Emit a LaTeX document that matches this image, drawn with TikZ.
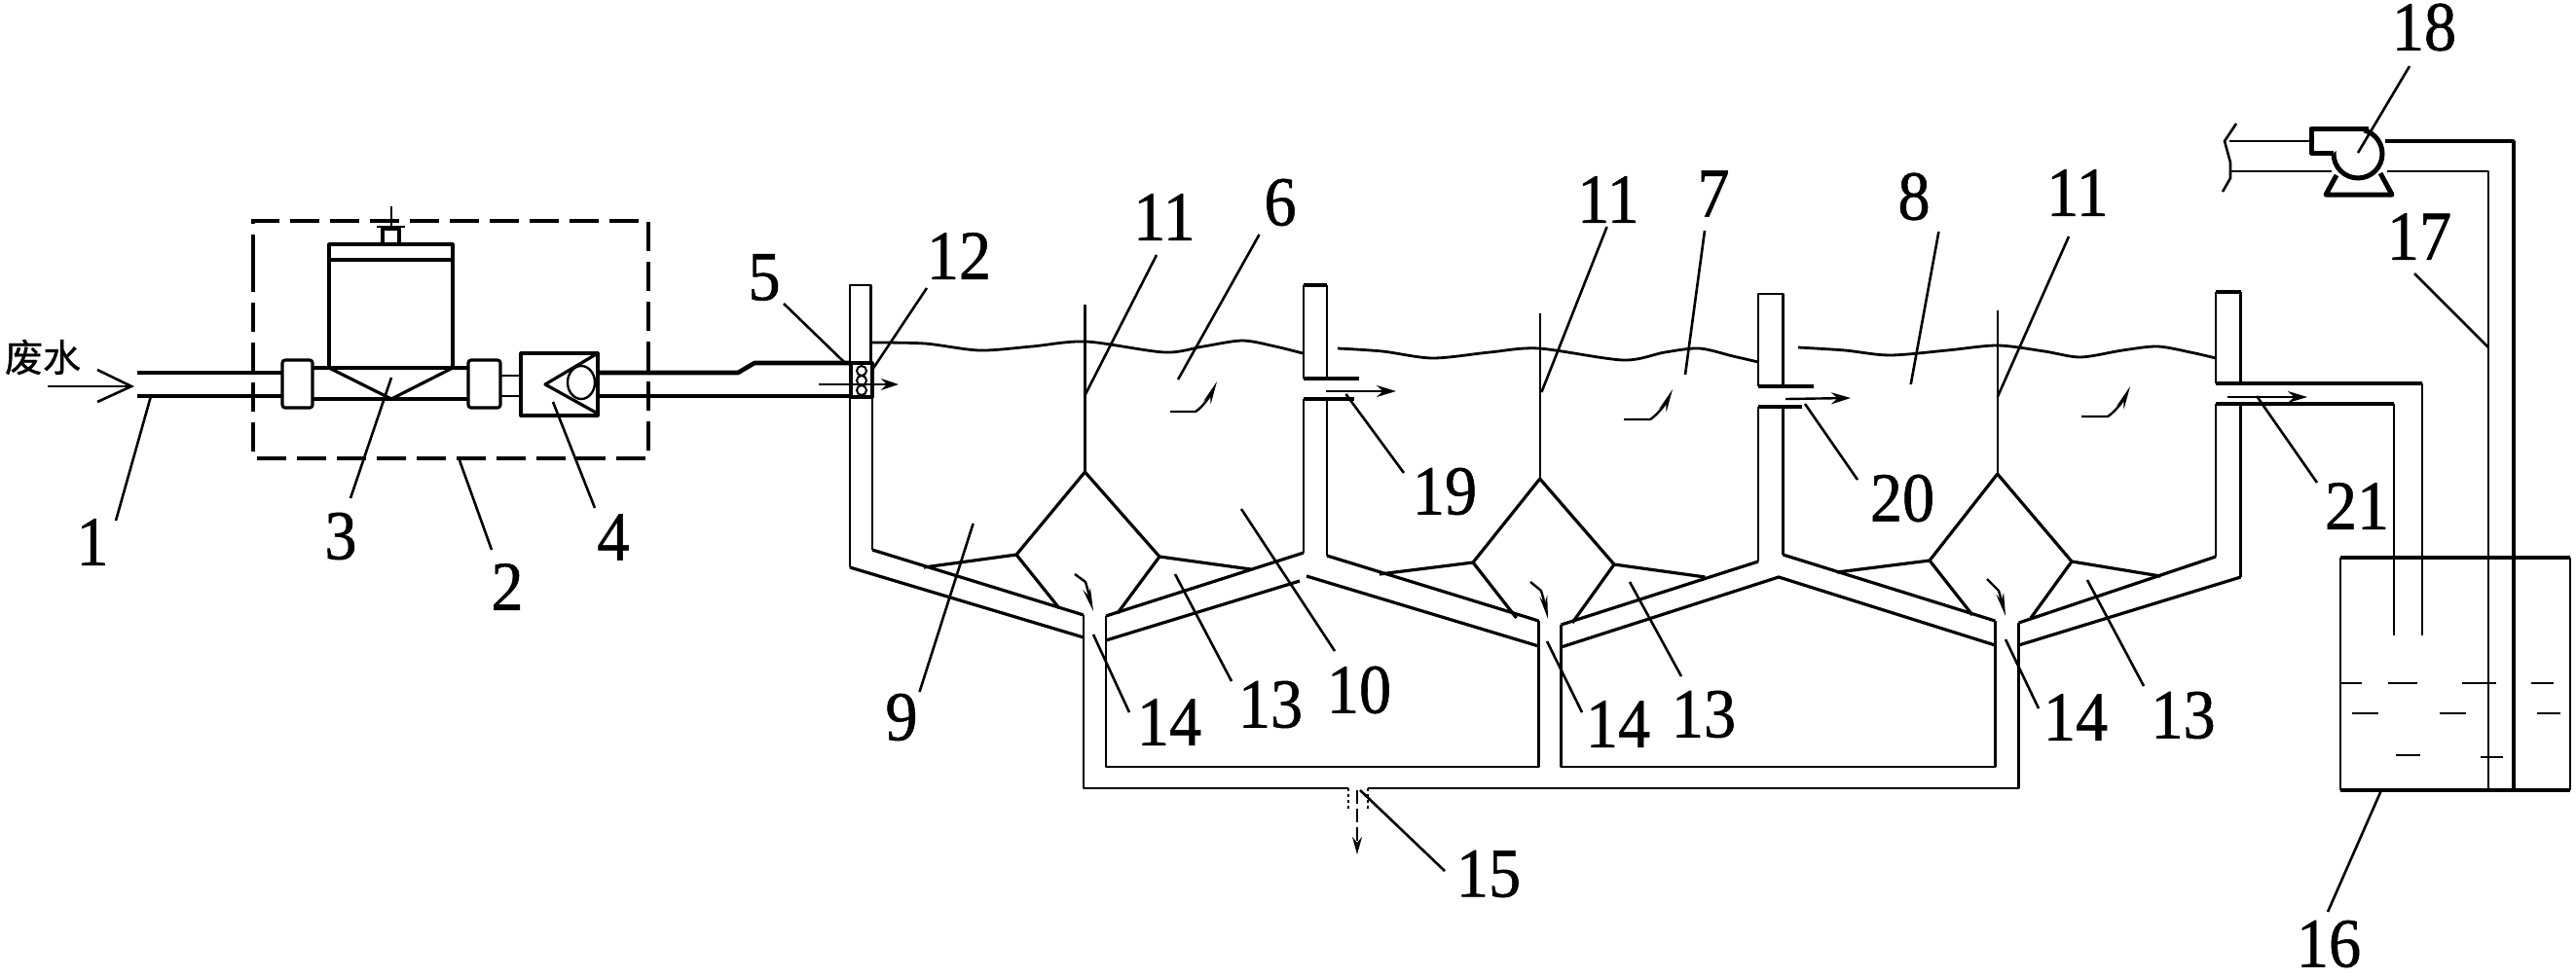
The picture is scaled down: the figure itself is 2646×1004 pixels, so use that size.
\documentclass[tikz,border=0pt]{standalone}
\usepackage{fontspec}
\setmainfont{Liberation Serif}[FakeBold=0.8]
\newfontfamily\cjkf{Noto Sans CJK SC}[FakeBold=0.8]
\usetikzlibrary{arrows.meta}
\tikzset{
  thin line/.style={line width=2.4pt,line join=round},
  thick line/.style={line width=3.2pt,line join=round},
  heavy line/.style={line width=4.6pt,line join=round},
  leader/.style={line width=2.6pt},
  lab/.style={font=\fontsize{72}{72}\selectfont,inner sep=0pt},
  flow/.style={line width=2.4pt,-{Stealth[length=20pt,width=12pt]}},
  swirl/.style={line width=2.4pt,-{Stealth[length=24pt,width=8pt]}},
  water/.style={line width=2.8pt,smooth}
}
\newcommand{\num}[1]{\scalebox{0.92}[1]{#1}}
\newcommand{\lead}[3]{\coordinate (#1a) at (#2);\coordinate (#1b) at (#3);\draw[leader] (#1a) -- (#1b);}
\begin{document}
\begin{tikzpicture}[x=1pt,y=-1pt]
\useasboundingbox (0,0) rectangle (2646,1004);
\fill[white] (0,0) rectangle (2646,1004);
% inlet
\node[font=\cjkf\fontsize{39}{39}\selectfont,inner sep=0pt] (feed) at (44,367) {废水};
\coordinate (fa) at (49,397);\coordinate (fb) at (135,397);
\draw[line width=2.6pt] (fa) -- (fb);
\draw[line width=2.6pt] (100,380) -- (fb) -- (100,413);
\draw[heavy line] (141,383) -- (290,383);
\draw[thick line] (141,407) -- (290,407);
% valve group
\draw[line width=3.4pt,dash pattern=on 30pt off 11pt] (260,271) -- (260,227) -- (666,227) -- (666,471) -- (260,471) -- cycle;
\draw[thick line,rounded corners=3pt] (290,370) rectangle (321,419);
\draw[thick line,rounded corners=3pt] (481,370) rectangle (514,419);
\draw[thick line] (338,378) -- (338,251) -- (465,251) -- (465,378);
\draw[thick line] (338,267) -- (465,267);
\draw[thick line] (321,378) -- (481,378);
\draw[thick line] (321,410) -- (481,410);
\draw[thick line] (338,378) -- (402,410) -- (465,378);
\draw[thick line] (393,251) -- (393,235) -- (410,235) -- (410,251);
\draw[thin line] (402,212) -- (402,235);
\draw[thin line] (387,233) -- (416,233);
\draw[thin line] (514,386) -- (535,386);
\draw[thin line] (514,407) -- (535,407);
\draw[thick line] (535,363) rectangle (614,427);
\draw[thick line] (614,363) -- (560,395) -- (614,425);
\draw[thin line] (597,393) ellipse (14 and 17);
\draw[heavy line] (614,383) -- (758,383) -- (775,373) -- (873,373);
\draw[thick line] (614,407) -- (873,407);
% screen
\draw[thick line] (874,373) rectangle (896,408);
\foreach \y in {381,391,401}{\draw[line width=2pt] (885,\y) circle (5);}
\draw[line width=2.6pt,-{Stealth[length=18pt,width=12pt]}] (841,395) -- (923,395);
% tanks walls
\draw[thin line] (894.5,373) -- (894.5,293) -- (873,293) -- (873,373);
\draw[thin line] (873,408) -- (873,583);
\draw[thick line] (873,583) -- (1113,655);
\draw[thin line] (896,408) -- (896,565);
\draw[thick line] (896,565) -- (1113,632);
\draw[thin line] (1113,632) -- (1113,810) -- (1385,810);
\draw[thin line] (1405,810) -- (2073.6,810) -- (2073.6,640);
\draw[thick line] (1136,633) -- (1339,568);
\draw[thick line] (1136,658) -- (1335,597);
\draw[thin line] (1136,633) -- (1136,788) -- (1580.5,788) -- (1580.5,638);
\draw[thick line] (1580.5,638) -- (1363,571);
\draw[thick line] (1342,592) -- (1580.5,664);
\draw[thin line] (1339,568) -- (1339,410);
\draw[thin line] (1363,571) -- (1363,410);
\draw[thick line] (1339,410) -- (1391,410);
\draw[thin line] (1339,389) -- (1339,293);
\draw[thick line] (1339,293) -- (1363,293);
\draw[thin line] (1363,293) -- (1363,389);
\draw[thick line] (1339,389) -- (1396,389);
\draw[thin line] (1603.5,642) -- (1603.5,788) -- (2049.3,788) -- (2049.3,638);
\draw[thick line] (1603.5,642) -- (1806,577);
\draw[thick line] (1603.5,665) -- (1827,593) -- (2049.3,663);
\draw[thick line] (1831.5,570) -- (2049.3,638);
\draw[thin line] (1806,577) -- (1806,418);
\draw[thin line] (1831.5,570) -- (1831.5,418);
\draw[thick line] (1806,418) -- (1851,418);
\draw[thin line] (1806,397) -- (1806,302) -- (1831.5,302) -- (1831.5,397);
\draw[thick line] (1806,397) -- (1863,397);
\draw[thick line] (2073.6,640) -- (2276,572);
\draw[thick line] (2073.6,663) -- (2301.6,593);
\draw[thin line] (2276,572) -- (2276,415);
\draw[thin line] (2301.6,593) -- (2301.6,415);
\draw[thick line] (2276,415) -- (2459,415);
\draw[thin line] (2459,415) -- (2459,653);
\draw[thin line] (2276,394) -- (2276,300);
\draw[thick line] (2276,300) -- (2301.6,300);
\draw[thin line] (2301.6,300) -- (2301.6,394);
\draw[thick line] (2276,394) -- (2487.7,394);
\draw[thin line] (2487.7,394) -- (2487.7,653);
% drain stub
\draw[thin line,dashed] (1385,810) -- (1385,833);
\draw[thin line,dashed] (1405,810) -- (1405,833);
\draw[line width=2pt,dash pattern=on 14pt off 5pt,-{Stealth[length=18pt,width=10pt]}] (1394,812) -- (1394,878);
% water
\draw[water] plot coordinates {(894.5,352) (950,353) (1006,360) (1060,356) (1115.5,351) (1196,362) (1236,356) (1276,350) (1310,356) (1338,363)};
\draw[water] plot coordinates {(1374,358) (1420,361) (1471.5,368) (1530,362) (1580.5,358) (1667,370) (1710,362) (1745.5,358) (1780,366) (1806,372)};
\draw[water] plot coordinates {(1847,357) (1895,360) (1941,365) (2000,360) (2051.7,355) (2100,361) (2137,367) (2180,360) (2216,356) (2250,362) (2276,368)};
% baffles and diamonds
\draw[thin line] (1114.4,313) -- (1114.4,485);
\draw[thin line] (1581.7,322) -- (1581.7,492);
\draw[thin line] (2051.7,319) -- (2051.7,487);
\draw[thick line] (1088,625) -- (1044,570) -- (1114.4,485) -- (1191,572) -- (1148,630);
\draw[thick line] (1557.6,635) -- (1513,578) -- (1581.7,492) -- (1658,580) -- (1615,640);
\draw[thick line] (2026,632) -- (1982,576) -- (2051.7,487) -- (2128,577) -- (2086,635);
\draw[thick line] (949,583) -- (1044,570);
\draw[thick line] (1191,572) -- (1285,585);
\draw[thick line] (1417,590) -- (1513,578);
\draw[thick line] (1658,580) -- (1751.5,593);
\draw[thick line] (1887,588) -- (1982,576);
\draw[thick line] (2128,577) -- (2219,592);
% flows
\draw[flow] (1362,402) -- (1434,402);
\draw[flow] (1834,410) -- (1901,409);
\draw[flow] (2288,408) -- (2370,408);
\draw[swirl] (1202,423) -- (1228,423) .. controls (1236,418) and (1244,405) .. (1250,392);
\draw[swirl] (1668,431) -- (1695,431) .. controls (1703,426) and (1712,413) .. (1718,400);
\draw[swirl] (2138,428) -- (2165,428) .. controls (2173,423) and (2182,410) .. (2188,397);
\draw[swirl] (1104,590) -- (1115,598) .. controls (1118,608) and (1120,618) .. (1123,628);
\draw[swirl] (1572,598) -- (1583,607) .. controls (1586,617) and (1588,626) .. (1590,636);
\draw[swirl] (2041,595) -- (2053,607) .. controls (2056,617) and (2058,625) .. (2060,633);
% tank 16
\draw[thin line] (2404,573) -- (2404,812);
\draw[thin line] (2640,573) -- (2640,812);
\draw[thick line] (2404,573) -- (2640,573);
\draw[thick line] (2404,812) -- (2640,812);
\foreach \a/\b/\y in {2405/2426/702,2453/2483/702,2529/2564/702,2600/2623/702,2416/2443/733,2506/2533/733,2606/2630/733,2461/2486/776,2548/2571/778}{\draw[thin line] (\a,\y) -- (\b,\y);}
% suction pipe and pump
\draw[thin line] (2556,812) -- (2556,176) -- (2452,176);
\draw[line width=3.4pt,line join=round] (2582,812) -- (2582,145) -- (2450,145);
\draw[thin line] (2292,176) -- (2395,176);
\draw[thin line] (2290,145) -- (2373,145);
\draw[line width=2.6pt] (2297,127) -- (2285,145) -- (2291,167) -- (2291,183) -- (2283,197);
\draw[line width=5pt] (2422,158) circle (25);
\draw[line width=5pt,line join=round,fill=white] (2433,132) -- (2374,132) -- (2374,157) -- (2397,157);
\draw[line width=5pt,line join=round] (2400,180) -- (2389,200) -- (2457,200) -- (2445,178);
% labels
\node[lab] (n1) at (95,557) {\num{1}};
\node[lab] (n2) at (521,603) {\num{2}};
\node[lab] (n3) at (350,551) {\num{3}};
\node[lab] (n4) at (630,552) {\num{4}};
\node[lab] (n5) at (785,285) {\num{5}};
\node[lab] (n6) at (1315,208) {\num{6}};
\node[lab] (n7) at (1760,199) {\num{7}};
\node[lab] (n8) at (1966,202) {\num{8}};
\node[lab] (n9) at (926,737) {\num{9}};
\node[lab] (n10) at (1396,709) {\num{10}};
\node[lab] (n11a) at (1196,223) {\num{11}};
\node[lab] (n11b) at (1652,205) {\num{11}};
\node[lab] (n11c) at (2134,198) {\num{11}};
\node[lab] (n12) at (985,263) {\num{12}};
\node[lab] (n13a) at (1305,724) {\num{13}};
\node[lab] (n13b) at (1750,734) {\num{13}};
\node[lab] (n13c) at (2242.5,735) {\num{13}};
\node[lab] (n14a) at (1201,742) {\num{14}};
\node[lab] (n14b) at (1662,744) {\num{14}};
\node[lab] (n14c) at (2132,737) {\num{14}};
\node[lab] (n15) at (1529,898) {\num{15}};
\node[lab] (n16) at (2392,970) {\num{16}};
\node[lab] (n17) at (2485,243) {\num{17}};
\node[lab] (n18) at (2490,28) {\num{18}};
\node[lab] (n19) at (1484,505) {\num{19}};
\node[lab] (n20) at (1954,512) {\num{20}};
\node[lab] (n21) at (2421,520) {\num{21}};
% leaders
\lead{l1}{155,407}{119,535}
\lead{l2}{472,473}{505,565}
\lead{l3}{402,388}{360,512}
\lead{l4}{568,413}{611,522}
\lead{l5}{805,312}{867,372}
\lead{l6}{1293.5,241}{1210,390}
\lead{l7}{1751,237}{1731,385}
\lead{l8}{1991.4,238}{1962.7,395}
\lead{l9}{999.6,538}{944.5,711}
\lead{l10}{1275,523}{1371,669}
\lead{l11a}{1188,262}{1114,407}
\lead{l11b}{1650.6,233}{1583.4,403}
\lead{l11c}{2125,243}{2051.7,408}
\lead{l12}{952,296}{896,380}
\lead{l13a}{1207,590}{1265,700}
\lead{l13b}{1674,598}{1727,695}
\lead{l13c}{2144,596}{2202,705}
\lead{l14a}{1123,652}{1160,732}
\lead{l14b}{1589,659}{1625,732}
\lead{l14c}{2060,657}{2094,728}
\lead{l15}{1397,812}{1484,895}
\lead{l16}{2446,812}{2391,937}
\lead{l17}{2480,281}{2556,357}
\lead{l18}{2475,68}{2422,157}
\lead{l19}{1382.5,405}{1442,486}
\lead{l20}{1854,415}{1908,493}
\lead{l21}{2318,407}{2380,496}
\end{tikzpicture}
\end{document}
